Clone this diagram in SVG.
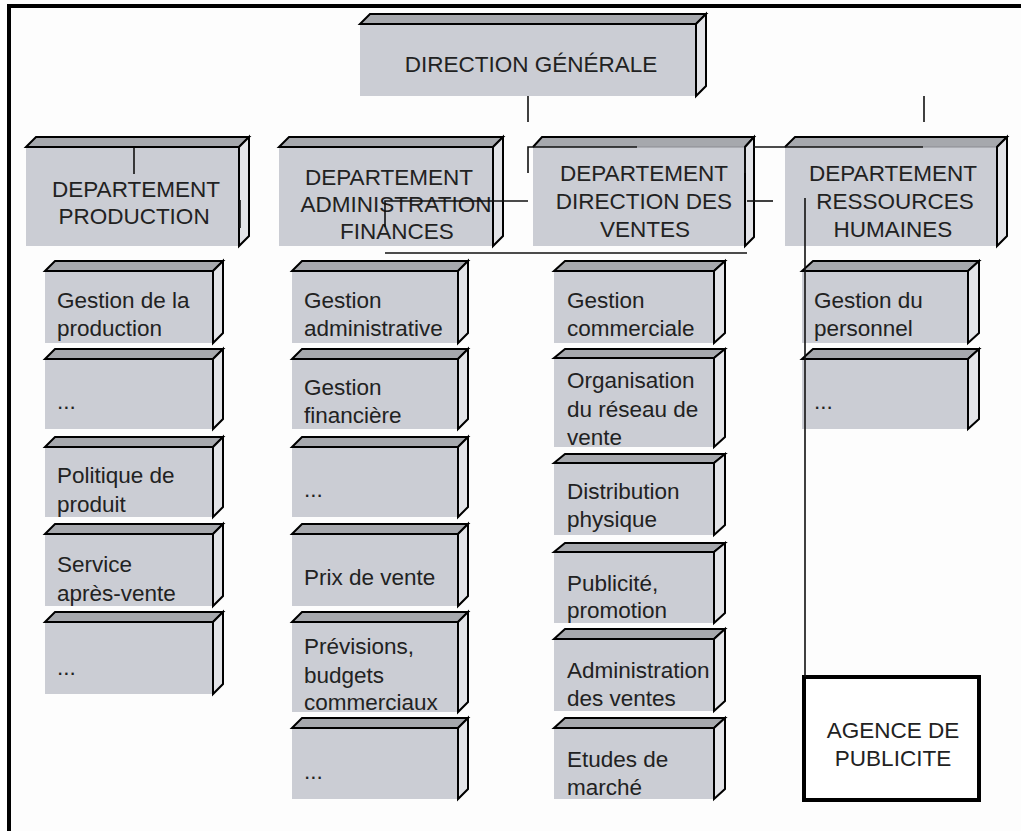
<svg xmlns="http://www.w3.org/2000/svg" width="1021" height="831" viewBox="0 0 1021 831">
<style>
.front{fill:#cbcdd4;stroke:none}
.top{fill:#a6a8ad;stroke:#000;stroke-width:2;stroke-linejoin:miter}
.topo{fill:#a6a8ad;stroke:none}
.side{fill:#e3e4e8;stroke:#000;stroke-width:2;stroke-linejoin:miter}
.edge{fill:none;stroke:#000;stroke-width:2}
.t{font-family:"Liberation Sans",Arial,sans-serif;font-size:22.5px;fill:#222}
.c{text-anchor:middle}
.ln{fill:none;stroke:#111;stroke-width:1.6}
</style>
<rect x="0" y="0" width="1021" height="831" fill="#fdfdfd"/>
<g id="frame">
<path d="M9 831 V6 H1021" fill="none" stroke="#000" stroke-width="4"/>
</g>

<g id="n-dg">
<rect class="front" x="360" y="24" width="336" height="72"/>
<polygon class="top" points="360,24 370,14 706,14 696,24"/>
<polygon class="side" points="696,24 706,14 706,86 696,96"/>
<text class="t c" x="531" y="72">DIRECTION GÉNÉRALE</text>
</g>

<g id="n-prod">
<rect class="front" x="26" y="147" width="213" height="99"/>
<polygon class="top" points="26,147 36,137 249,137 239,147"/>
<polygon class="side" points="239,147 249,137 249,236 239,246"/>
<text class="t c"><tspan x="136" y="197">DEPARTEMENT</tspan><tspan x="134" y="224">PRODUCTION</tspan></text>
</g>

<g id="n-admin">
<rect class="front" x="279" y="147" width="214" height="99"/>
<polygon class="top" points="279,147 289,137 503,137 493,147"/>
<polygon class="side" points="493,147 503,137 503,236 493,246"/>
<text class="t c"><tspan x="389" y="185">DEPARTEMENT</tspan><tspan x="396" y="212">ADMINISTRATION</tspan><tspan x="397" y="239">FINANCES</tspan></text>
</g>

<g id="n-ventes">
<rect class="front" x="533" y="147" width="212" height="99"/>
<polygon class="topo" points="533,147 542,137 754,137 745,147"/>
<path class="edge" d="M533 147 L542 137 H754 L745 147"/>
<path d="M637 147 H745" stroke="#8a8b90" stroke-width="1"/>
<polygon class="side" points="745,147 754,137 754,237 745,246"/>
<text class="t c"><tspan x="644" y="181">DEPARTEMENT</tspan><tspan x="644" y="209">DIRECTION DES</tspan><tspan x="645" y="237">VENTES</tspan></text>
</g>

<g id="n-rh">
<rect class="front" x="785" y="147" width="212" height="99"/>
<polygon class="topo" points="785,147 795,137 1007,137 997,147"/>
<path class="edge" d="M785 147 L795 137 H1007 L997 147"/>
<path d="M923 147 H997" stroke="#8a8b90" stroke-width="1"/>
<polygon class="side" points="997,147 1007,137 1007,236 997,246"/>
<text class="t c"><tspan x="893" y="181">DEPARTEMENT</tspan><tspan x="895" y="209">RESSOURCES</tspan><tspan x="893" y="237">HUMAINES</tspan></text>
</g>

<!-- Column 1 -->
<g id="n-p1">
<rect class="front" x="45" y="271" width="168" height="72"/>
<polygon class="top" points="45,271 55,261 223,261 213,271"/>
<polygon class="side" points="213,271 223,261 223,333 213,343"/>
<text class="t"><tspan x="57" y="308">Gestion de la</tspan><tspan x="57" y="336">production</tspan></text>
</g>
<g id="n-p2">
<rect class="front" x="45" y="359" width="168" height="70"/>
<polygon class="top" points="45,359 55,349 223,349 213,359"/>
<polygon class="side" points="213,359 223,349 223,419 213,429"/>
<text class="t" x="57" y="409">...</text>
</g>
<g id="n-p3">
<rect class="front" x="45" y="447" width="168" height="70"/>
<polygon class="top" points="45,447 55,437 223,437 213,447"/>
<polygon class="side" points="213,447 223,437 223,507 213,517"/>
<text class="t"><tspan x="57" y="483">Politique de</tspan><tspan x="57" y="512">produit</tspan></text>
</g>
<g id="n-p4">
<rect class="front" x="45" y="534" width="168" height="72"/>
<polygon class="top" points="45,534 55,524 223,524 213,534"/>
<polygon class="side" points="213,534 223,524 223,596 213,606"/>
<text class="t"><tspan x="57" y="572">Service</tspan><tspan x="57" y="601">après-vente</tspan></text>
</g>
<g id="n-p5">
<rect class="front" x="45" y="622" width="168" height="72"/>
<polygon class="top" points="45,622 55,612 223,612 213,622"/>
<polygon class="side" points="213,622 223,612 223,684 213,694"/>
<text class="t" x="57" y="675">...</text>
</g>

<!-- Column 2 -->
<g id="n-a1">
<rect class="front" x="292" y="271" width="166" height="72"/>
<polygon class="top" points="292,271 302,261 468,261 458,271"/>
<polygon class="side" points="458,271 468,261 468,333 458,343"/>
<text class="t"><tspan x="304" y="308">Gestion</tspan><tspan x="304" y="336">administrative</tspan></text>
</g>
<g id="n-a2">
<rect class="front" x="292" y="359" width="166" height="70"/>
<polygon class="top" points="292,359 302,349 468,349 458,359"/>
<polygon class="side" points="458,359 468,349 468,419 458,429"/>
<text class="t"><tspan x="304" y="395">Gestion</tspan><tspan x="304" y="423">financière</tspan></text>
</g>
<g id="n-a3">
<rect class="front" x="292" y="447" width="166" height="70"/>
<polygon class="top" points="292,447 302,437 468,437 458,447"/>
<polygon class="side" points="458,447 468,437 468,507 458,517"/>
<text class="t" x="304" y="497">...</text>
</g>
<g id="n-a4">
<rect class="front" x="292" y="534" width="166" height="72"/>
<polygon class="top" points="292,534 302,524 468,524 458,534"/>
<polygon class="side" points="458,534 468,524 468,596 458,606"/>
<text class="t" x="304" y="585">Prix de vente</text>
</g>
<g id="n-a5">
<rect class="front" x="292" y="622" width="166" height="90"/>
<polygon class="top" points="292,622 302,612 468,612 458,622"/>
<polygon class="side" points="458,622 468,612 468,702 458,712"/>
<text class="t"><tspan x="304" y="654">Prévisions,</tspan><tspan x="304" y="683">budgets</tspan><tspan x="304" y="710">commerciaux</tspan></text>
</g>
<g id="n-a6">
<rect class="front" x="292" y="728" width="166" height="71"/>
<polygon class="top" points="292,728 302,718 468,718 458,728"/>
<polygon class="side" points="458,728 468,718 468,789 458,799"/>
<text class="t" x="304" y="779">...</text>
</g>

<!-- Column 3 -->
<g id="n-v1">
<rect class="front" x="554" y="271" width="160" height="72"/>
<polygon class="top" points="554,271 565,261 725,261 714,271"/>
<polygon class="side" points="714,271 725,261 725,333 714,343"/>
<text class="t"><tspan x="567" y="308">Gestion</tspan><tspan x="567" y="336">commerciale</tspan></text>
</g>
<g id="n-v2">
<rect class="front" x="554" y="358" width="160" height="89"/>
<polygon class="top" points="554,358 565,349 725,349 714,358"/>
<polygon class="side" points="714,358 725,349 725,437 714,447"/>
<text class="t"><tspan x="567" y="388">Organisation</tspan><tspan x="567" y="417">du réseau de</tspan><tspan x="567" y="445">vente</tspan></text>
</g>
<g id="n-v3">
<rect class="front" x="554" y="463" width="160" height="72"/>
<polygon class="top" points="554,463 565,454 725,454 714,463"/>
<polygon class="side" points="714,463 725,454 725,525 714,535"/>
<text class="t"><tspan x="567" y="499">Distribution</tspan><tspan x="567" y="527">physique</tspan></text>
</g>
<g id="n-v4">
<rect class="front" x="554" y="552" width="160" height="71"/>
<polygon class="top" points="554,552 565,543 725,543 714,552"/>
<polygon class="side" points="714,552 725,543 725,613 714,623"/>
<text class="t"><tspan x="567" y="591">Publicité,</tspan><tspan x="567" y="618">promotion</tspan></text>
</g>
<g id="n-v5">
<rect class="front" x="554" y="639" width="160" height="72"/>
<polygon class="top" points="554,639 565,629 725,629 714,639"/>
<polygon class="side" points="714,639 725,629 725,701 714,711"/>
<text class="t"><tspan x="567" y="678">Administration</tspan><tspan x="567" y="706">des ventes</tspan></text>
</g>
<g id="n-v6">
<rect class="front" x="554" y="728" width="160" height="71"/>
<polygon class="top" points="554,728 565,718 725,718 714,728"/>
<polygon class="side" points="714,728 725,718 725,789 714,799"/>
<text class="t"><tspan x="567" y="767">Etudes de</tspan><tspan x="567" y="795">marché</tspan></text>
</g>

<!-- Column 4 -->
<g id="n-r1">
<rect class="front" x="802" y="271" width="166" height="72"/>
<polygon class="top" points="802,271 813,261 979,261 968,271"/>
<polygon class="side" points="968,271 979,261 979,333 968,343"/>
<text class="t"><tspan x="814" y="308">Gestion du</tspan><tspan x="814" y="336">personnel</tspan></text>
</g>
<g id="n-r2">
<rect class="front" x="802" y="359" width="166" height="70"/>
<polygon class="top" points="802,359 813,349 979,349 968,359"/>
<polygon class="side" points="968,359 979,349 979,419 968,429"/>
<text class="t" x="814" y="409">...</text>
</g>

<g id="n-agence">
<rect x="804" y="677" width="175" height="123" fill="#fff" stroke="#000" stroke-width="4"/>
<text class="t c"><tspan x="893" y="738">AGENCE DE</tspan><tspan x="893" y="766">PUBLICITE</tspan></text>
</g>

<g id="connectors">
<path class="ln" d="M528 96 V122"/>
<path class="ln" d="M924 96 V122"/>
<path class="ln" d="M134 148 V174"/>
<path class="ln" d="M240 200 V228" stroke-width="2.6"/>
<path class="ln" d="M385 227 V201 H528"/>
<path class="ln" d="M385 253 H747"/>
<path class="ln" d="M528 173 V147 H637"/>
<path class="ln" d="M745 173 V147"/>
<path class="ln" d="M753 147 H923"/>
<path class="ln" d="M747 201 H773"/>
<path class="ln" d="M805 198 V677"/>
</g>
</svg>
